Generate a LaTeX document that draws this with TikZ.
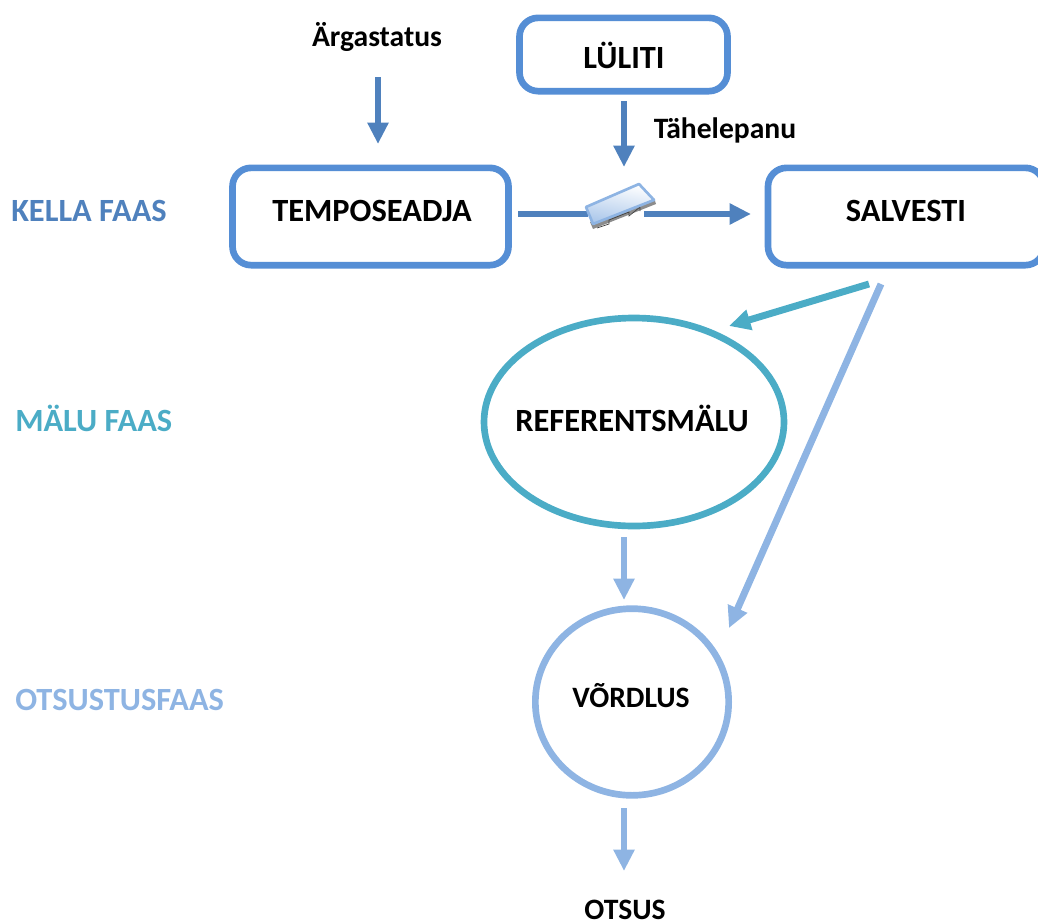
\documentclass[tikz,border=0pt]{standalone}
\usepackage{fontspec}
\setmainfont{Carlito}
\usetikzlibrary{arrows.meta,shapes.geometric}
\definecolor{boxblue}{HTML}{558ED5}
\definecolor{arrblue}{HTML}{4F81BD}
\definecolor{teal}{HTML}{4BACC6}
\definecolor{pale}{HTML}{8EB4E3}
\tikzset{
 x=0.75pt,y=-0.75pt,
 rbox/.style={draw=boxblue,line width=5pt,rounded corners=14pt,fill=white,inner sep=0pt},
 lab/.style={font=\fontsize{22.2pt}{25pt}\selectfont\bfseries,inner sep=0pt},
 phase/.style={font=\fontsize{24.3pt}{27pt}\selectfont\bfseries,inner sep=0pt,anchor=west},
 bigtxt/.style={font=\fontsize{24.3pt}{27pt}\selectfont\bfseries,inner sep=0pt},
 midtxt/.style={font=\fontsize{22.2pt}{25pt}\selectfont\bfseries,inner sep=0pt},
 oval/.style={ellipse,inner sep=0pt,fill=white},
 arr/.style={line width=5.2pt,-{Triangle[length=16pt,width=15pt]}},
}
\begin{document}
\begin{tikzpicture}
\useasboundingbox (0,0) rectangle (1038,921);
\clip (0,0) rectangle (1038,921);
\node[rbox,minimum width=207pt,minimum height=73pt] (tempo) at (370.5,216.5) {};
\node[rbox,minimum width=156pt,minimum height=55pt] (luliti) at (623.5,54.5) {};
\node[rbox,minimum width=207pt,minimum height=73pt] (salvesti) at (906,216.5) {};
\node[bigtxt] (tempotxt) at (372,211) {TEMPOSEADJA};
\node[bigtxt] (lulititxt) at (624,55) {LÜLITI};
\node[bigtxt] (salvtxt) at (906,211) {SALVESTI};
\node[lab] (argastatus) at (377,37) {Ärgastatus};
\node[lab] (tahelepanu) at (725,130) {Tähelepanu};
\node[phase,text=arrblue] (kella) at (11,211) {KELLA FAAS};
\node[phase,text=teal] (malu) at (15,418.5) {MÄLU FAAS};
\node[phase,text=pale] (otsustus) at (15,700) {OTSUSTUSFAAS};
\node[oval,draw=teal,line width=5pt,minimum width=225pt,minimum height=156pt] (ref) at (634,422) {};
\node[oval,draw=pale,line width=5pt,minimum width=145pt,minimum height=140pt] (vord) at (632,702) {};
\node[bigtxt] (reftxt) at (632,418.5) {REFERENTSMÄLU};
\node[midtxt] (vordtxt) at (631,696) {VÕRDLUS};
\node[midtxt] (otsus) at (625,910) {OTSUS};
% coordinates for free connector ends
\coordinate (a1) at (378,77); \coordinate (a2) at (378,144);
\coordinate (b1) at (624,101); \coordinate (b2) at (624,167);
\coordinate (c1) at (518,214); \coordinate (c2) at (588,214);
\coordinate (d1) at (644,214); \coordinate (d2) at (751,214);
\coordinate (e1) at (869,284); \coordinate (e2) at (729,326);
\coordinate (f1) at (881,284); \coordinate (f2) at (729,628);
\coordinate (g1) at (624,537); \coordinate (g2) at (624,600);
\coordinate (h1) at (624,808); \coordinate (h2) at (624,871);
\draw[arr,arrblue] (a1) -- (a2);
\draw[arr,arrblue] (b1) -- (b2);
\draw[line width=5.2pt,arrblue] (c1) -- (c2);
\draw[arr,arrblue] (d1) -- (d2);
\draw[arr,teal] (e1) -- (e2);
\draw[arr,pale] (f1) -- (f2);
\draw[arr,pale] (g1) -- (g2);
\draw[arr,pale] (h1) -- (h2);
% switch
\fill[black!45] (593,229) -- (656,204) -- (654,198) -- (590,222) -- cycle;
\draw[black!75,line width=0.5pt] (597,228) -- (609,224) -- (609,220) -- (629,212) -- (629,216) -- (640,207) -- (640,211);
\shade[top color=white,bottom color=boxblue!50,draw=pale,line width=2pt,line join=round,shading angle=-10] (586,207) -- (639,184) -- (654,200) -- (593,224) -- cycle;
\end{tikzpicture}
\end{document}
